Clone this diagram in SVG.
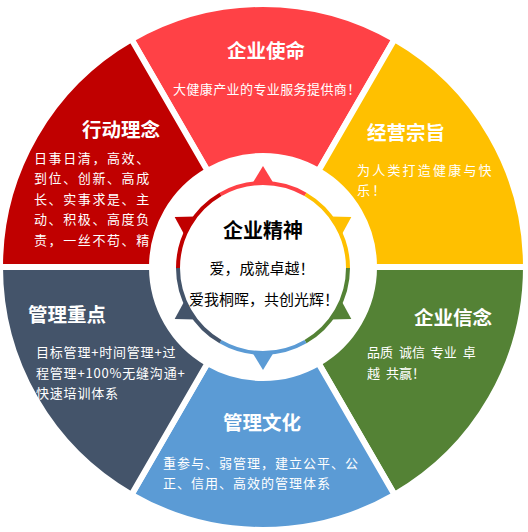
<svg xmlns="http://www.w3.org/2000/svg" width="528" height="532" viewBox="0 0 528 532">
<style>
.seg{stroke:#fff;stroke-width:6;stroke-linejoin:miter}
.ttl{font-family:"Noto Sans CJK SC","Microsoft YaHei",sans-serif;font-weight:bold;font-size:19.5px;fill:#fff}
.bd{font-family:"Noto Sans CJK SC","Microsoft YaHei",sans-serif;font-size:13px;fill:#fff}
.ctr{font-family:"Noto Sans CJK SC","Microsoft YaHei",sans-serif;fill:#000;text-anchor:middle}
.ring{fill:none;stroke-width:4}
</style>
<rect width="528" height="532" fill="#fff"/>
<g id="mission">
<path class="seg" fill="#FF4146" d="M131.5,39.23 A263,263 0 0 1 394.5,39.23 L318.5,170.87 A111,111 0 0 0 207.5,170.87 Z"/>
<text class="ttl" x="227" y="58">企业使命</text>
<text class="bd" x="173" y="94" letter-spacing="0.4">大健康产业的专业服务提供商！</text>
</g>
<g id="purpose">
<path class="seg" fill="#FFC000" d="M394.5,39.23 A263,263 0 0 1 526,267 L374,267 A111,111 0 0 0 318.5,170.87 Z"/>
<text class="ttl" x="367" y="140">经营宗旨</text>
<text class="bd" x="357" y="175" letter-spacing="2.2">为人类打造健康与快</text>
<text class="bd" x="357" y="195" letter-spacing="2.2">乐！</text>
</g>
<g id="belief">
<path class="seg" fill="#548235" d="M526,267 A263,263 0 0 1 394.5,494.77 L318.5,363.13 A111,111 0 0 0 374,267 Z"/>
<text class="ttl" x="414" y="325">企业信念</text>
<text class="bd" x="367" y="357" xml:space="preserve" word-spacing="3">品质 诚信 专业 卓</text>
<text class="bd" x="367" y="378" xml:space="preserve" word-spacing="3">越 共赢！</text>
</g>
<g id="culture">
<path class="seg" fill="#5B9BD5" d="M394.5,494.77 A263,263 0 0 1 131.5,494.77 L207.5,363.13 A111,111 0 0 0 318.5,363.13 Z"/>
<text class="ttl" x="223" y="430">管理文化</text>
<text class="bd" x="163" y="468" letter-spacing="1">重参与、弱管理，建立公平、公</text>
<text class="bd" x="163" y="488" letter-spacing="1">正、信用、高效的管理体系</text>
</g>
<g id="focus">
<path class="seg" fill="#44546A" d="M131.5,494.77 A263,263 0 0 1 0,267 L152,267 A111,111 0 0 0 207.5,363.13 Z"/>
<text class="ttl" x="28" y="322">管理重点</text>
<text class="bd" x="36" y="357" letter-spacing="0.8">目标管理+时间管理+过</text>
<text class="bd" x="36" y="378" letter-spacing="0.8">程管理+100%无缝沟通+</text>
<text class="bd" x="36" y="398" letter-spacing="0.8">快速培训体系</text>
</g>
<g id="action">
<path class="seg" fill="#C00000" d="M0,267 A263,263 0 0 1 131.5,39.23 L207.5,170.87 A111,111 0 0 0 152,267 Z"/>
<text class="ttl" x="82" y="137">行动理念</text>
<text class="bd" x="34" y="163" letter-spacing="1.6">日事日清，高效、</text>
<text class="bd" x="34" y="183" letter-spacing="1.6">到位、创新、高成</text>
<text class="bd" x="34" y="204" letter-spacing="1.6">长、实事求是、主</text>
<text class="bd" x="34" y="224" letter-spacing="1.6">动、积极、高度负</text>
<text class="bd" x="34" y="245" letter-spacing="1.6">责，一丝不苟、精</text>
</g>
<g id="spirit">
<polygon fill="#FF4146" points="263,166 252,184 274,184"/>
<polygon fill="#FFC000" points="263,166 252,184 274,184" transform="rotate(60 263 268)"/>
<polygon fill="#548235" points="263,166 252,184 274,184" transform="rotate(120 263 268)"/>
<polygon fill="#5B9BD5" points="263,166 252,184 274,184" transform="rotate(180 263 268)"/>
<polygon fill="#44546A" points="263,166 252,184 274,184" transform="rotate(240 263 268)"/>
<polygon fill="#C00000" points="263,166 252,184 274,184" transform="rotate(300 263 268)"/>
<circle cx="263" cy="268" r="83" fill="#fff"/>
<path class="ring" stroke="#FF4146" d="M220.5,194.39 A85,85 0 0 1 305.5,194.39"/>
<path class="ring" stroke="#FFC000" d="M305.5,194.39 A85,85 0 0 1 348,268"/>
<path class="ring" stroke="#548235" d="M348,268 A85,85 0 0 1 305.5,341.61"/>
<path class="ring" stroke="#5B9BD5" d="M305.5,341.61 A85,85 0 0 1 220.5,341.61"/>
<path class="ring" stroke="#44546A" d="M220.5,341.61 A85,85 0 0 1 178,268"/>
<path class="ring" stroke="#C00000" d="M178,268 A85,85 0 0 1 220.5,194.39"/>
<text class="ctr" x="263" y="238" font-size="20" font-weight="bold">企业精神</text>
<text class="ctr" x="262" y="274" font-size="15">爱，成就卓越！</text>
<text class="ctr" x="264" y="305" font-size="15">爱我桐晖，共创光辉！</text>
</g>
</svg>
